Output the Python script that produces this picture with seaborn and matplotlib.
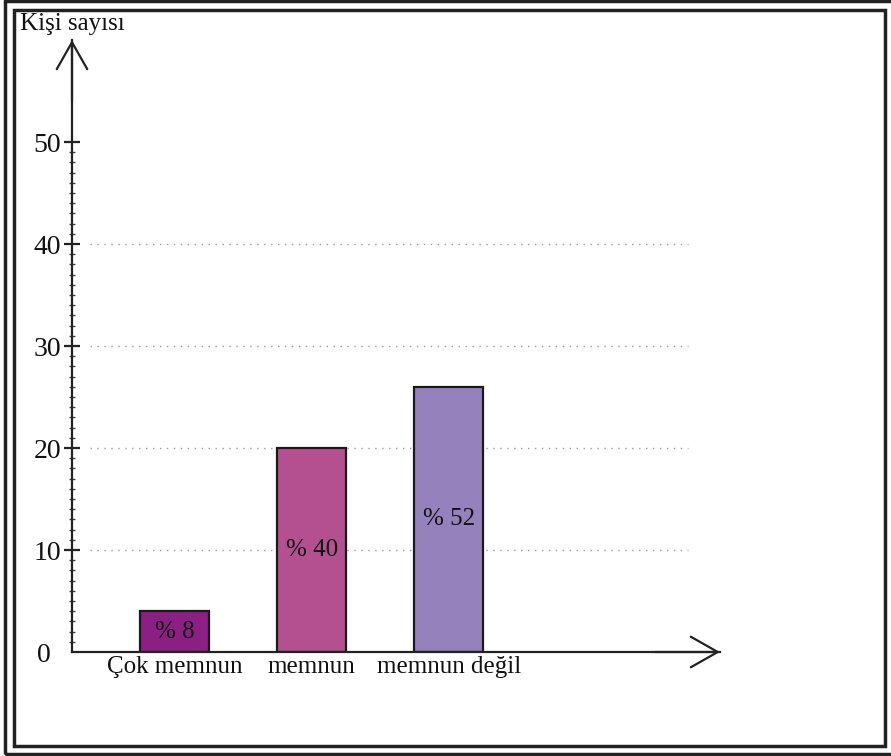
import matplotlib
matplotlib.use("Agg")
import matplotlib.pyplot as plt
import matplotlib.transforms as mtransforms
import seaborn as sns
import pandas as pd
from matplotlib.patches import Rectangle
from matplotlib.ticker import FixedLocator

categories = ["Çok memnun", "memnun", "memnun değil"]
values = [4, 20, 26]
percents = [8, 40, 52]
colors = ["#8c1f84", "#b4508f", "#9582bc"]
y_ticks = [0, 10, 20, 30, 40, 50]
grid_levels = [10, 20, 30, 40]
y_label = "Kişi sayısı"

sns.set_theme(style="white")
plt.rcParams["font.family"] = ["Liberation Serif", "DejaVu Serif"]

W, H = 891, 756
fig = plt.figure(figsize=(W / 100, H / 100), dpi=100)
fig.patch.set_facecolor("white")

# axes placement in pixels
x0, x1 = 72, 720
y0, ytop = 652, 40
ax = fig.add_axes([x0 / W, (H - y0) / H, (x1 - x0) / W, (y0 - ytop) / H])
ax.set_facecolor("none")

df = pd.DataFrame({"cat": categories, "val": values})
sns.barplot(data=df, x="cat", y="val", hue="cat", palette=colors, legend=False,
            saturation=1, width=0.5, edgecolor="#1a1a1a", linewidth=1.6,
            ax=ax, zorder=3)

ax.set_xlim(-0.748, 3.98)
ax.set_ylim(0, 60)

# dotted grid lines
for g in grid_levels:
    ax.axhline(g, xmin=(90 - x0) / (x1 - x0), xmax=(688 - x0) / (x1 - x0),
               color="#9a9a9a", linestyle=(0, (1, 4)), linewidth=1.0, zorder=1)

# percent labels inside bars
for cont, p in zip(ax.containers, percents):
    ax.bar_label(cont, labels=[f"% {p}"], label_type="center", fontsize=18,
                 color="#111111")

# spines
for s in ["top", "right"]:
    ax.spines[s].set_visible(False)
for s in ["left", "bottom"]:
    ax.spines[s].set_color("#222222")
    ax.spines[s].set_linewidth(1.6)
    ax.spines[s].set_zorder(4)

ax.set_yticks(y_ticks)
ax.set_yticklabels([str(t) for t in y_ticks])
ax.yaxis.set_minor_locator(FixedLocator([v for v in range(1, 50) if v % 10]))
ax.tick_params(axis="y", which="major", direction="inout", length=12, width=1.6,
               color="#222222", labelsize=20, labelcolor="#111111", pad=2, left=True)
ax.tick_params(axis="y", which="minor", direction="inout", length=5, width=1.0,
               color="#444444", left=True)
ax.tick_params(axis="x", length=0, labelsize=18, labelcolor="#111111", pad=3)
ax.set_xlabel("")
ax.set_ylabel("")

# the zero tick has no tick mark and its label sits further left
zero_tick = ax.yaxis.get_major_ticks()[0]
zero_tick.tick1line.set_visible(False)
zero_tick.label1.set_transform(zero_tick.label1.get_transform() +
                               mtransforms.ScaledTranslation(-0.1, 0, fig.dpi_scale_trans))

# arrow heads on axes
ax.annotate("", xy=(0, 1), xycoords="axes fraction", xytext=(0, 0.9),
            arrowprops=dict(arrowstyle="->,head_length=0.97,head_width=0.55",
                            color="#222222", lw=1.6, mutation_scale=20,
                            shrinkA=0, shrinkB=0))
ax.annotate("", xy=(1, 0), xycoords="axes fraction", xytext=(0.9, 0),
            arrowprops=dict(arrowstyle="->,head_length=0.97,head_width=0.55",
                            color="#222222", lw=1.6, mutation_scale=20,
                            shrinkA=0, shrinkB=0))

# y axis title
fig.text(20 / W, 1 - 30 / H, y_label, fontsize=18, color="#111111",
         ha="left", va="baseline")

# double frame
fig.patches.append(Rectangle((5 / W, 2 / H), (W + 10) / W, (H - 3) / H,
                             transform=fig.transFigure, fill=False,
                             edgecolor="#222222", linewidth=2.5))
fig.patches.append(Rectangle((14 / W, 10 / H), (885 - 14) / W, (746 - 10) / H,
                             transform=fig.transFigure, fill=False,
                             edgecolor="#222222", linewidth=2.5))

fig.savefig("out.png", dpi=100, facecolor="white")
